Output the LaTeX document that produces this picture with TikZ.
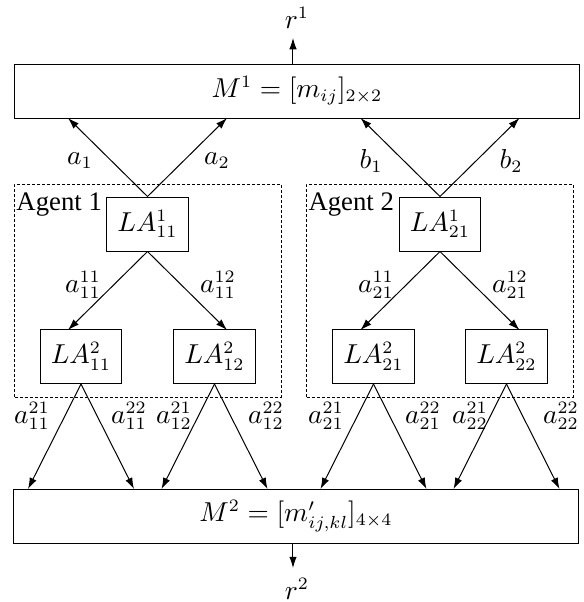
\documentclass[tikz,border=0pt]{standalone}
\usepackage{fontspec}
\setmainfont{Liberation Serif}
\usetikzlibrary{arrows.meta}
\begin{document}
\begin{tikzpicture}[x=0.4pt,y=-0.4pt,
  every node/.style={font=\fontsize{10.7}{13}\selectfont},
  labox/.style={draw, line width=0.4pt, minimum width=32.4pt, minimum height=21.6pt, inner sep=0pt},
  bigbox/.style={draw, line width=0.4pt, minimum width=225.6pt, minimum height=21.6pt, inner sep=0pt},
  agentbox/.style={draw, line width=0.4pt, dash pattern=on 1.2pt off 0.8pt, minimum width=106.4pt, minimum height=85.2pt, inner sep=0pt},
  arr/.style={-{Latex[length=4.5pt,width=3pt]}, line width=0.4pt},
  lbl/.style={inner sep=0pt}
]
\useasboundingbox (0,0) rectangle (583,602);

% big boxes
\node[bigbox] (m1) at (297,91) {$M^1=[m_{ij}]_{2\times 2}$};
\node[bigbox] (m2) at (296,516) {$M^2=[m'_{ij,kl}]_{4\times 4}$};

% rewards
\node[lbl] (r1) at (297,18) {$r^1$};
\node[lbl] (r2) at (297,589) {$r^2$};
\coordinate (r1tail) at (293,64);
\coordinate (r1tip) at (293,38);
\coordinate (r2tail) at (293,543);
\coordinate (r2tip) at (293,568);
\draw[arr] (r1tail) -- (r1tip);
\draw[arr] (r2tail) -- (r2tip);

% agent boxes
\node[agentbox] (ag1) at (148,290.5) {};
\node[agentbox] (ag2) at (440,290.5) {};
\node[lbl, anchor=base west] (ag1t) at (16,210) {Agent 1};
\node[lbl, anchor=base west] (ag2t) at (308,210) {Agent 2};

% learning automata
\node[labox] (la1) at (147.5,224) {$LA^1_{11}$};
\node[labox] (la11) at (81,356.5) {$LA^2_{11}$};
\node[labox] (la12) at (214.5,356.5) {$LA^2_{12}$};
\node[labox] (lb1) at (440,224) {$LA^1_{21}$};
\node[labox] (lb21) at (373.5,356.5) {$LA^2_{21}$};
\node[labox] (lb22) at (506.5,356.5) {$LA^2_{22}$};

% tips on M1
\coordinate (t1) at (68,118);
\coordinate (t2) at (227,118);
\coordinate (t3) at (360.5,118);
\coordinate (t4) at (519.5,118);
\draw[arr] (la1.north) -- (t1);
\draw[arr] (la1.north) -- (t2);
\draw[arr] (lb1.north) -- (t3);
\draw[arr] (lb1.north) -- (t4);

% tips on level-2 boxes
\coordinate (u1) at (68,330);
\coordinate (u2) at (227,330);
\coordinate (u3) at (360.5,330);
\coordinate (u4) at (519.5,330);
\draw[arr] (la1.south) -- (u1);
\draw[arr] (la1.south) -- (u2);
\draw[arr] (lb1.south) -- (u3);
\draw[arr] (lb1.south) -- (u4);

% tips on M2
\coordinate (v1) at (28,489);
\coordinate (v2) at (134,489);
\coordinate (v3) at (161.5,489);
\coordinate (v4) at (267.5,489);
\coordinate (v5) at (320.5,489);
\coordinate (v6) at (426.5,489);
\coordinate (v7) at (453.5,489);
\coordinate (v8) at (559.5,489);
\draw[arr] (la11.south) -- (v1);
\draw[arr] (la11.south) -- (v2);
\draw[arr] (la12.south) -- (v3);
\draw[arr] (la12.south) -- (v4);
\draw[arr] (lb21.south) -- (v5);
\draw[arr] (lb21.south) -- (v6);
\draw[arr] (lb22.south) -- (v7);
\draw[arr] (lb22.south) -- (v8);

% labels top
\node[lbl] (la) at (80,161) {$a_1$};
\node[lbl] (lb) at (217,161) {$a_2$};
\node[lbl] (lc) at (371,161) {$b_1$};
\node[lbl] (ld) at (511,161) {$b_2$};

% labels middle
\node[lbl] (le) at (83,285) {$a^{11}_{11}$};
\node[lbl] (lf) at (218,285) {$a^{12}_{11}$};
\node[lbl] (lg) at (376,285) {$a^{11}_{21}$};
\node[lbl] (lh) at (510,285) {$a^{12}_{21}$};

% labels bottom
\node[lbl] (li) at (32,416) {$a^{21}_{11}$};
\node[lbl] (lj) at (129,416) {$a^{22}_{11}$};
\node[lbl] (lk) at (174,416) {$a^{21}_{12}$};
\node[lbl] (ll) at (266,416) {$a^{22}_{12}$};
\node[lbl] (lm) at (326,416) {$a^{21}_{21}$};
\node[lbl] (ln) at (423,416) {$a^{22}_{21}$};
\node[lbl] (lo) at (470,416) {$a^{21}_{22}$};
\node[lbl] (lp) at (561,416) {$a^{22}_{22}$};
\end{tikzpicture}
\end{document}
